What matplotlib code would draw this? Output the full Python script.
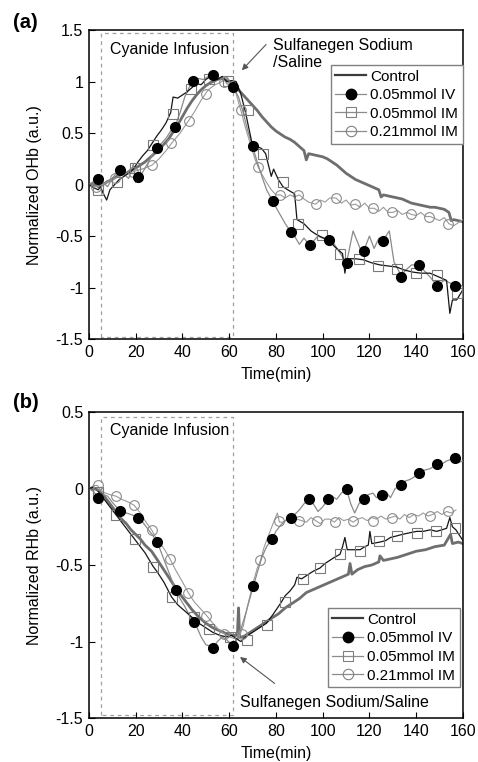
import matplotlib
matplotlib.use("Agg")
import matplotlib.pyplot as plt
from matplotlib.lines import Line2D

plt.rcParams['font.family'] = ['Liberation Sans', 'DejaVu Sans']
plt.rcParams['axes.unicode_minus'] = False

labels = ['Control', '0.05mmol IV', '0.05mmol IM', '0.21mmol IM']

# ---- panel (a): normalized OHb ----
a_ctrl_t = [0, 2, 4, 6, 8, 10, 12, 14, 16, 18, 20, 22, 24, 26, 28, 30, 32, 34, 36, 38, 40, 42, 44, 46, 48, 50,
            52, 54, 56, 58, 60, 62, 64, 66, 68, 70, 72, 74, 76, 78, 80, 82, 84, 86, 88, 90, 92, 93, 94, 96, 98,
            100, 102, 104, 106, 108, 110, 112, 114, 116, 118, 120, 122, 124, 125, 126, 128, 130, 132, 134, 136,
            138, 140, 142, 144, 146, 148, 150, 152, 154, 155, 156, 158, 160]
a_ctrl_v = [0.0, 0.01, -0.02, 0.0, 0.03, 0.05, 0.08, 0.1, 0.11, 0.14, 0.16, 0.19, 0.22, 0.26, 0.3, 0.34, 0.39,
            0.44, 0.51, 0.58, 0.66, 0.74, 0.81, 0.87, 0.92, 0.96, 0.99, 1.01, 1.03, 1.02, 1.0, 0.97, 0.92, 0.87,
            0.82, 0.77, 0.72, 0.66, 0.61, 0.56, 0.52, 0.49, 0.46, 0.44, 0.41, 0.37, 0.33, 0.24, 0.3, 0.29, 0.28,
            0.27, 0.25, 0.22, 0.19, 0.15, 0.11, 0.08, 0.05, 0.03, 0.01, -0.01, -0.03, -0.05, -0.12, -0.1, -0.11,
            -0.12, -0.13, -0.14, -0.16, -0.18, -0.19, -0.2, -0.21, -0.22, -0.22, -0.23, -0.24, -0.27, -0.35,
            -0.34, -0.35, -0.36]

a_iv_t = [0, 2, 4, 6, 8, 10, 12, 13.3, 15, 17, 18, 19, 20, 21.1, 23, 25, 27, 29, 31, 33, 35, 36.8, 39, 41, 43,
          44.6, 47, 49, 51, 52.9, 55, 57, 59, 61.7, 64, 66, 68, 70, 72, 74, 76, 78.6, 80, 82, 84, 86.4, 88, 90,
          92, 94.5, 96, 98, 100, 102.8, 105, 107, 110.2, 113, 116, 117.6, 120, 122, 124, 125.6, 128.5, 130.5,
          133.5, 136, 138, 141, 144, 146, 149, 152, 154, 156.7, 158, 160]
a_iv_v = [0.0, 0.03, 0.05, 0.02, -0.02, 0.06, 0.12, 0.14, 0.1, 0.06, 0.12, 0.2, 0.02, 0.07, 0.12, 0.2, 0.28,
          0.36, 0.4, 0.45, 0.52, 0.56, 0.7, 0.85, 0.95, 1.01, 1.03, 1.02, 1.05, 1.06, 1.02, 1.05, 0.98, 0.95,
          0.85, 0.7, 0.52, 0.37, 0.22, 0.08, -0.05, -0.16, -0.22, -0.3, -0.38, -0.46, -0.5, -0.58, -0.52, -0.59,
          -0.55, -0.5, -0.52, -0.54, -0.58, -0.65, -0.76, -0.45, -0.62, -0.64, -0.5, -0.62, -0.52, -0.55, -0.45,
          -0.75, -0.88, -0.82, -0.78, -0.78, -0.85, -0.9, -0.98, -0.93, -0.95, -0.98, -0.95, -1.0]
a_iv_mt = [4, 13.3, 21.1, 29, 36.8, 44.6, 52.9, 61.7, 70, 78.6, 86.4, 94.5, 102.8, 110.2, 117.6, 125.6, 133.5,
           141, 149, 156.7]
a_iv_mv = [0.05, 0.14, 0.07, 0.36, 0.56, 1.01, 1.06, 0.95, 0.37, -0.16, -0.46, -0.59, -0.54, -0.76, -0.64,
           -0.55, -0.9, -0.78, -0.98, -0.98]

a_im05_t = [0, 2, 4, 5, 6, 7.6, 9, 11, 13, 15, 17, 19, 21, 23, 25, 27, 29, 31, 33, 35, 36, 38, 40, 42, 44, 46,
            48, 50, 52, 54, 55, 57, 59, 61, 63, 65, 67, 69.6, 71, 73.9, 75.6, 78, 79, 81, 83, 85, 88, 89, 92, 95,
            97, 99.5, 102.8, 105, 108.5, 109.5, 110.5, 114, 117.4, 121, 124.5, 128, 131.6, 135, 138.7, 142,
            145.9, 149, 153, 154.4, 155.5, 157.3, 160]
a_im05_v = [0.0, -0.03, -0.05, -0.02, -0.08, -0.15, -0.05, 0.0, 0.05, 0.08, 0.11, 0.15, 0.22, 0.28, 0.33,
            0.4, 0.47, 0.53, 0.6, 0.7, 0.85, 0.84, 0.87, 0.9, 0.94, 0.98, 0.97, 1.02, 1.05, 1.1, 1.02, 1.05, 1.0,
            1.01, 1.0, 0.88, 0.7, 0.42, 0.38, 0.35, 0.3, 0.08, 0.15, 0.05, -0.02, -0.05, -0.09, -0.34, -0.38,
            -0.45, -0.48, -0.51, -0.54, -0.6, -0.67, -0.86, -0.72, -0.72, -0.73, -0.76, -0.78, -0.79, -0.8,
            -0.83, -0.85, -0.86, -0.86, -0.89, -0.93, -1.25, -1.12, -1.12, -1.02]
a_im05_mt = [4, 12, 19.7, 27.5, 35.8, 43.5, 51.5, 59.5, 68.2, 74.6, 83.1, 89.6, 99.5, 107.4, 115.6, 123.8,
             131.6, 140, 148.7, 157.3]
a_im05_mv = [-0.05, 0.03, 0.16, 0.38, 0.69, 0.93, 1.03, 1.01, 0.72, 0.3, 0.03, -0.38, -0.49, -0.67, -0.72,
             -0.79, -0.82, -0.86, -0.88, -1.05]

a_im21_t = [0, 3, 6, 9, 12, 15, 18, 21, 24, 27, 30, 33, 36, 39, 42, 45, 48, 51, 54, 57, 59, 61, 63, 65, 67, 69,
            71, 72.4, 74, 76, 78, 80, 82, 84, 86, 88, 90, 92, 94, 97, 99, 101, 103, 105.7, 108, 110, 112, 114,
            116, 118, 120, 122, 124, 126, 128, 130, 132, 134, 136, 138, 140, 142, 144, 146, 148, 150, 152, 154,
            156, 158, 160]
a_im21_v = [0.0, -0.02, 0.0, 0.04, 0.07, 0.1, 0.12, 0.14, 0.16, 0.19, 0.25, 0.33, 0.42, 0.5, 0.6, 0.7, 0.82,
            0.92, 0.97, 1.0, 1.05, 0.98, 0.88, 0.72, 0.55, 0.4, 0.25, 0.17, 0.1, 0.02, -0.05, -0.1, -0.1, -0.13,
            -0.1, -0.12, -0.1, -0.14, -0.17, -0.19, -0.15, -0.17, -0.13, -0.13, -0.18, -0.15, -0.2, -0.19, -0.22,
            -0.18, -0.23, -0.23, -0.26, -0.22, -0.27, -0.27, -0.25, -0.29, -0.27, -0.29, -0.3, -0.27, -0.31,
            -0.31, -0.33, -0.35, -0.32, -0.38, -0.4, -0.37, -0.34]
a_im21_mt = [3, 11, 19, 27, 35, 43, 50, 58, 65, 72.4, 81.7, 89.5, 97, 105.7, 113.8, 121.6, 129.8, 137.8, 145.6,
             153.7]
a_im21_mv = [-0.02, 0.06, 0.12, 0.19, 0.4, 0.62, 0.88, 1.0, 0.72, 0.17, -0.1, -0.1, -0.19, -0.13, -0.19,
             -0.23, -0.27, -0.29, -0.31, -0.38]

# ---- panel (b): normalized RHb ----
b_ctrl_t = [0, 2, 4, 6, 8, 10, 12, 14, 16, 18, 20, 22, 24, 26.8, 29, 32, 35, 38, 41, 44, 47, 50, 53, 56, 59,
            62, 63.5, 64, 64.5, 66, 68, 70, 72, 74, 76, 78.9, 81, 84, 87, 90, 93, 96, 99, 102, 105, 108, 111,
            111.7, 112.5, 115, 118, 121, 124, 124.5, 126, 129, 132, 136, 140, 144, 148, 152, 154.7, 155.5, 158,
            160]
b_ctrl_v = [0.0, 0.0, -0.01, -0.04, -0.08, -0.12, -0.16, -0.2, -0.23, -0.27, -0.3, -0.33, -0.37, -0.41, -0.46,
            -0.53, -0.6, -0.67, -0.73, -0.79, -0.84, -0.88, -0.91, -0.93, -0.95, -0.96, -0.96, -0.78, -0.97,
            -0.97, -0.95, -0.93, -0.91, -0.89, -0.87, -0.84, -0.82, -0.78, -0.75, -0.72, -0.68, -0.66, -0.64,
            -0.62, -0.6, -0.58, -0.56, -0.49, -0.56, -0.53, -0.51, -0.5, -0.48, -0.44, -0.47, -0.46, -0.45,
            -0.43, -0.41, -0.4, -0.38, -0.37, -0.3, -0.36, -0.35, -0.36]

b_iv_t = [0, 2, 4, 6, 8, 10, 13.5, 16, 18, 21.1, 23, 25, 27, 29.2, 31, 33, 35, 37.1, 39, 41, 43, 44.8, 46, 48,
          50, 53.2, 55, 57, 59, 61.7, 63, 65, 67, 70.3, 72, 74, 76, 78.4, 80, 82, 84, 86.3, 88, 90, 92, 94.3,
          96, 98, 100, 102.4, 104, 106, 108, 110.2, 112, 113.7, 115.5, 117.5, 119.5, 121.5, 123, 125.5, 127,
          129, 131, 133.5, 135.5, 137.5, 139.5, 141.3, 143.5, 146, 149, 151, 153, 156.6, 158, 160]
b_iv_v = [0.0, -0.02, -0.06, -0.04, -0.05, -0.09, -0.15, -0.16, -0.17, -0.19, -0.22, -0.26, -0.3, -0.35,
          -0.42, -0.5, -0.58, -0.66, -0.72, -0.77, -0.83, -0.87, -0.9, -0.97, -1.02, -1.04, -1.0, -0.97, -0.99,
          -1.03, -1.0, -0.92, -0.82, -0.64, -0.55, -0.45, -0.38, -0.33, -0.28, -0.24, -0.21, -0.19, -0.17,
          -0.14, -0.1, -0.07, -0.1, -0.15, -0.12, -0.07, -0.05, -0.07, -0.03, -0.005, -0.1, -0.16, -0.1, -0.07,
          -0.04, -0.03, -0.06, -0.04, -0.02, -0.06, 0.0, 0.02, 0.05, 0.06, 0.08, 0.1, 0.12, 0.13, 0.16, 0.16,
          0.18, 0.2, 0.17, 0.18]
b_iv_mt = [4, 13.5, 21.1, 29.2, 37.1, 44.8, 53.2, 61.7, 70.3, 78.4, 86.3, 94.3, 102.4, 110.2, 117.5, 125.5,
           133.5, 141.3, 149, 156.6]
b_iv_mv = [-0.06, -0.15, -0.19, -0.35, -0.66, -0.87, -1.04, -1.03, -0.64, -0.33, -0.19, -0.07, -0.07, -0.005,
           -0.07, -0.04, 0.02, 0.1, 0.16, 0.2]

b_im05_t = [0, 2, 4, 6, 8, 10, 12, 14, 16, 18, 20, 22, 24, 27.5, 29, 32, 35.4, 38, 41, 44, 47, 50, 53, 56, 59,
            61, 63, 65, 67, 70, 73, 76, 78.9, 82, 84, 86, 88, 89, 91, 94, 96, 98.8, 101, 103, 105, 107.4, 108.5,
            109.5, 110.5, 113, 116, 118, 119.5, 120.2, 121, 124.5, 127, 129, 131.6, 134, 137, 140.2, 143, 146,
            148.7, 151, 153, 154.4, 155.5, 157, 158.7, 160]
b_im05_v = [0.0, 0.01, -0.02, -0.06, -0.1, -0.14, -0.18, -0.22, -0.26, -0.3, -0.34, -0.38, -0.42, -0.51,
            -0.54, -0.61, -0.71, -0.76, -0.8, -0.84, -0.88, -0.91, -0.94, -0.96, -0.97, -0.96, -0.98, -1.0,
            -0.97, -0.94, -0.91, -0.88, -0.82, -0.75, -0.7, -0.67, -0.63, -0.58, -0.59, -0.56, -0.54, -0.52,
            -0.49, -0.47, -0.45, -0.43, -0.38, -0.32, -0.4, -0.4, -0.4, -0.38, -0.37, -0.28, -0.36, -0.35,
            -0.34, -0.32, -0.31, -0.3, -0.29, -0.28, -0.28, -0.27, -0.28, -0.27, -0.26, -0.19, -0.25, -0.27,
            -0.31, -0.34]
b_im05_mt = [4, 11.8, 19.7, 27.5, 35.4, 44.9, 51.5, 60.3, 67.5, 76, 83.8, 91.5, 98.8, 107.4, 116, 124.2, 131.6,
             140.2, 148.4, 156.6]
b_im05_mv = [-0.02, -0.17, -0.33, -0.51, -0.71, -0.84, -0.92, -0.97, -0.99, -0.89, -0.74, -0.59, -0.52, -0.43,
             -0.41, -0.34, -0.31, -0.29, -0.28, -0.26]

b_im21_t = [0, 2, 3.7, 5, 7, 9, 11.6, 14, 17, 19.4, 22, 24, 26.8, 29, 32, 34.7, 37, 40, 42.5, 45, 48, 50.3, 53,
            56, 58, 60, 62, 64, 66, 68, 70, 72, 73.4, 75, 77, 79, 80.6, 81.5, 83, 85, 87, 89, 91, 93, 95, 97, 99,
            101, 103, 105, 107, 109, 111, 113, 115, 117, 119, 121, 123, 125, 127, 129, 131, 133, 135, 137, 139,
            141, 143, 145, 147, 149, 151, 153, 155, 157]
b_im21_v = [0.0, 0.02, 0.02, -0.01, -0.03, -0.04, -0.05, -0.07, -0.09, -0.11, -0.16, -0.21, -0.27, -0.33,
            -0.39, -0.46, -0.53, -0.61, -0.68, -0.74, -0.79, -0.83, -0.88, -0.93, -0.95, -0.97, -0.98, -0.98,
            -0.9, -0.76, -0.63, -0.52, -0.47, -0.38, -0.3, -0.22, -0.16, -0.22, -0.22, -0.2, -0.22, -0.2, -0.21,
            -0.22, -0.19, -0.21, -0.23, -0.2, -0.2, -0.22, -0.19, -0.21, -0.2, -0.22, -0.2, -0.19, -0.21, -0.19,
            -0.2, -0.18, -0.2, -0.19, -0.18, -0.2, -0.17, -0.19, -0.17, -0.18, -0.16, -0.18, -0.17, -0.15,
            -0.17, -0.15, -0.16, -0.14]
b_im21_mt = [3.7, 11.6, 19.4, 26.8, 34.7, 42.5, 50.3, 58, 65.5, 73.4, 81.5, 90, 97.4, 105.3, 113.1, 121.4,
             129.5, 137.8, 145.7, 153.8]
b_im21_mv = [0.02, -0.05, -0.11, -0.27, -0.46, -0.68, -0.83, -0.95, -0.95, -0.47, -0.21, -0.21, -0.21, -0.22,
             -0.21, -0.21, -0.19, -0.19, -0.18, -0.15]

a_yticks = [-1.5, -1, -0.5, 0, 0.5, 1, 1.5]
b_yticks = [-1.5, -1, -0.5, 0, 0.5]
xticks = [0, 20, 40, 60, 80, 100, 120, 140, 160]
infusion = (5, 61.7)

fig = plt.figure(figsize=(4.78, 7.62), dpi=100)
ax_a = fig.add_axes([0.186, 0.555, 0.7825, 0.4055])
ax_b = fig.add_axes([0.186, 0.0577, 0.7825, 0.4016])

handles = [
    Line2D([], [], color='#3c3c3c', lw=1.6),
    Line2D([], [], color='#8c8c8c', lw=0.9, marker='o', ms=7.5, mfc='black', mec='black'),
    Line2D([], [], color='#8c8c8c', lw=0.9, marker='s', ms=7.5, mfc='none', mec='#808080', mew=0.8),
    Line2D([], [], color='#8c8c8c', lw=0.9, marker='o', ms=7.5, mfc='none', mec='#808080', mew=0.8),
]


def draw_panel(ax, d, ylim, yticks, ylabel):
    ax.plot(d['ctrl'][0], d['ctrl'][1], color='#6e6e6e', lw=2.0, zorder=2)
    ax.plot(d['im21'][0], d['im21'][1], color='#9a9a9a', lw=0.8, zorder=3)
    ax.plot(d['iv'][0], d['iv'][1], color='#8a8a8a', lw=0.9, zorder=3)
    ax.plot(d['im05'][0], d['im05'][1], color='#151515', lw=0.9, zorder=4)
    ax.plot(d['im05'][2], d['im05'][3], ls='none', marker='s', ms=6.5, mfc='none', mec='#7a7a7a', mew=0.8, zorder=5)
    ax.plot(d['im21'][2], d['im21'][3], ls='none', marker='o', ms=7, mfc='none', mec='#8a8a8a', mew=0.8, zorder=5)
    ax.plot(d['iv'][2], d['iv'][3], ls='none', marker='o', ms=7, mfc='black', mec='black', zorder=6)

    # dashed box for the infusion period
    lo, hi = ylim[0] + 0.02, ylim[1] - 0.03
    ax.plot([infusion[0], infusion[0], infusion[1], infusion[1], infusion[0]], [lo, hi, hi, lo, lo],
            color='#a0a0a0', lw=0.9, ls=(0, (3, 3)), zorder=1)

    ax.set_xlim(0, 160)
    ax.set_ylim(*ylim)
    ax.set_xticks(xticks)
    ax.set_yticks(yticks)
    ax.set_yticklabels(['%g' % v for v in yticks])
    ax.tick_params(direction='in', length=4, width=0.8, labelsize=11.5, pad=4)
    for s in ax.spines.values():
        s.set_linewidth(1.1)
    ax.set_xlabel('Time(min)', fontsize=11.5, labelpad=5)
    ax.set_ylabel(ylabel, fontsize=11.5, labelpad=10)


draw_panel(ax_a, {'ctrl': (a_ctrl_t, a_ctrl_v), 'iv': (a_iv_t, a_iv_v, a_iv_mt, a_iv_mv),
                  'im05': (a_im05_t, a_im05_v, a_im05_mt, a_im05_mv),
                  'im21': (a_im21_t, a_im21_v, a_im21_mt, a_im21_mv)},
           (-1.5, 1.5), a_yticks, 'Normalized OHb (a.u.)')
draw_panel(ax_b, {'ctrl': (b_ctrl_t, b_ctrl_v), 'iv': (b_iv_t, b_iv_v, b_iv_mt, b_iv_mv),
                  'im05': (b_im05_t, b_im05_v, b_im05_mt, b_im05_mv),
                  'im21': (b_im21_t, b_im21_v, b_im21_mt, b_im21_mv)},
           (-1.5, 0.5), b_yticks, 'Normalized RHb (a.u.)')

legend_kw = dict(fontsize=11, frameon=True, fancybox=False, framealpha=1, edgecolor='#808080',
                 handlelength=2.0, handletextpad=0.3, labelspacing=0.3, borderpad=0.3, borderaxespad=0)
leg = ax_a.legend(handles, labels, loc='upper right', bbox_to_anchor=(1.0, 0.887), **legend_kw)
leg.get_frame().set_linewidth(1.0)
leg = ax_b.legend(handles, labels, loc='lower right', bbox_to_anchor=(0.992, 0.101), **legend_kw)
leg.get_frame().set_linewidth(1.0)

# text annotations
ax_a.text(9, 1.31, 'Cyanide Infusion', fontsize=11.5, va='center', ha='left')
ax_b.text(9, 0.382, 'Cyanide Infusion', fontsize=11.5, va='center', ha='left')
ax_a.text(78.7, 1.42, 'Sulfanegen Sodium\n/Saline', fontsize=11.5, va='top', ha='left', linespacing=1.1)
ax_a.annotate('', xy=(64.6, 1.09), xytext=(76.6, 1.38),
              arrowprops=dict(arrowstyle='-|>', color='#555555', lw=0.8, mutation_scale=9))
ax_b.text(64.6, -1.40, 'Sulfanegen Sodium/Saline', fontsize=11.5, va='center', ha='left')
ax_b.annotate('', xy=(63.7, -1.09), xytext=(80.4, -1.285),
              arrowprops=dict(arrowstyle='-|>', color='#555555', lw=0.8, mutation_scale=9))

fig.text(0.027, 0.970, '(a)', fontsize=14.5, fontweight='bold', va='center', ha='left')
fig.text(0.027, 0.472, '(b)', fontsize=14.5, fontweight='bold', va='center', ha='left')

fig.savefig('out.png', dpi=100)
